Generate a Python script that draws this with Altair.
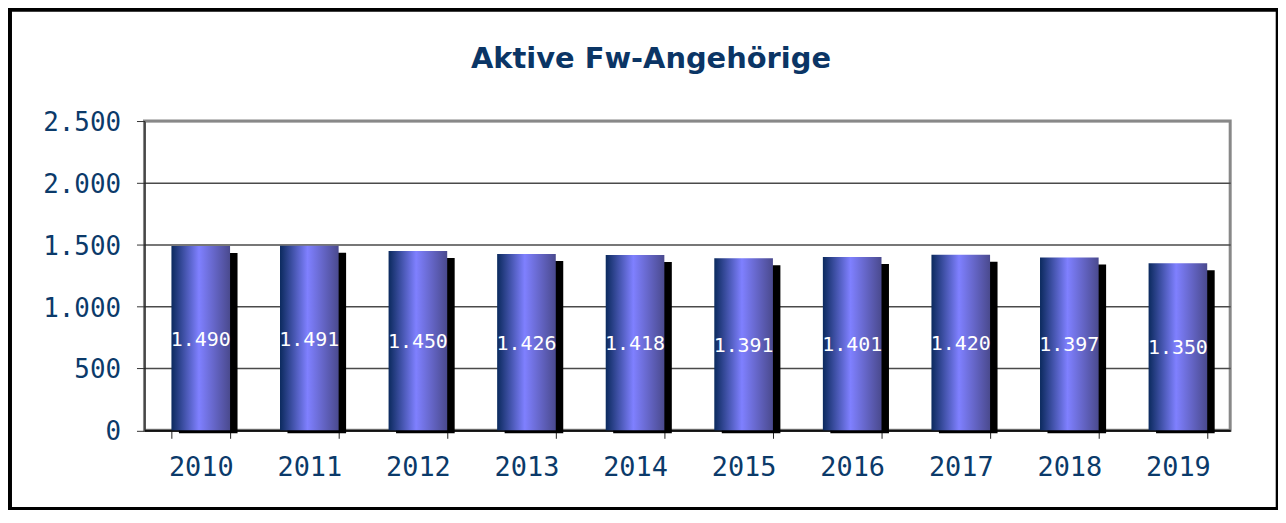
import altair as alt
import pandas as pd

years = ["2010", "2011", "2012", "2013", "2014", "2015", "2016", "2017", "2018", "2019"]
values = [1490, 1491, 1450, 1426, 1418, 1391, 1401, 1420, 1397, 1350]
y_ticks = [0, 500, 1000, 1500, 2000, 2500]
title_text = "Aktive Fw-Angehörige"

df = pd.DataFrame({"year": years, "value": values})

W, H = 1090, 310.5
NAVY = "#0b3a6a"

x_scale = alt.Scale(paddingInner=0.46, paddingOuter=0.23, align=0.54)
x_enc = alt.X("year:N", title=None, sort=years, scale=x_scale,
              axis=alt.Axis(labelAngle=0, labelFont="DejaVu Sans Mono", labelFontSize=27,
                            labelColor=NAVY, labelPadding=16, tickBand="extent",
                            tickSize=8, tickColor="#222", tickWidth=1,
                            domainColor="#111", domainWidth=2, grid=False))
y_scale = alt.Scale(domain=[0, 2500], nice=False)
y_enc = alt.Y("value:Q", title=None, scale=y_scale,
              axis=alt.Axis(values=y_ticks, labelFont="DejaVu Sans Mono", labelFontSize=26,
                            labelColor=NAVY, labelPadding=16, labelOffset=1.5,
                            labelExpr="replace(format(datum.value, ','), ',', '.')",
                            tickSize=8, tickColor="#333", domainColor="#111", domainWidth=1,
                            grid=True, gridWidth=1.5,
                            gridColor={"condition": {"test": "datum.value >= 2500", "value": "#888888"},
                                       "value": "#4a4a4a"}))

grad = alt.Gradient(gradient="linear", x1=0, x2=1, y1=0, y2=0,
                    stops=[alt.GradientStop(offset=0, color="#0b2a5e"),
                           alt.GradientStop(offset=0.47, color="#7f80ff"),
                           alt.GradientStop(offset=1, color="#4a4a8e")])

base = alt.Chart(df)

shadow = base.mark_bar(color="#000000", xOffset=7.5, yOffset=7, y2Offset=3).encode(
    x=x_enc, y=y_enc, y2=alt.datum(0))
bars = base.mark_bar(color=grad).encode(x=x_enc, y=y_enc, y2=alt.datum(0))
labels = base.transform_calculate(
    mid="datum.value / 2",
    lab="replace(format(datum.value, ','), ',', '.')"
).mark_text(color="white", font="DejaVu Sans Mono", fontSize=20, baseline="middle", dy=1.5).encode(
    x=alt.X("year:N", sort=years, scale=x_scale), y=alt.Y("mid:Q", scale=y_scale), text="lab:N")

one = pd.DataFrame({"k": [0]})
# decorative outer frame (relative to plot origin at page 145,120.5)
def edge(x1, x2, y1, y2):
    return alt.Chart(one).mark_rect(color="black").encode(
        x=alt.value(x1), x2=alt.value(x2), y=alt.value(y1), y2=alt.value(y2))

frame = [
    edge(-140, -133, -116.5, 390.5),   # left
    edge(-140, 1138, -116.5, -109.8),  # top
    edge(1135.7, 1138, -116.5, 390.5), # right
    edge(-140, 1138, 387.5, 390.5),    # bottom
]

title = alt.Chart(one).mark_text(text=title_text, font="DejaVu Sans", fontWeight="bold",
                                 fontSize=29, color="#0b3565", baseline="alphabetic",
                                 align="center").encode(
    x=alt.value(508.5), y=alt.value(-53.5))

chart = alt.layer(*frame, shadow, bars, labels, title).properties(
    width=W, height=H,
    autosize=alt.AutoSizeParams(type="none"),
    padding={"left": 137, "top": 112.5, "right": 48, "bottom": 80},
    background="white",
).configure_view(stroke="#888888", strokeWidth=3)

chart.save("out.html", embed_options={"renderer": "svg", "actions": False})
